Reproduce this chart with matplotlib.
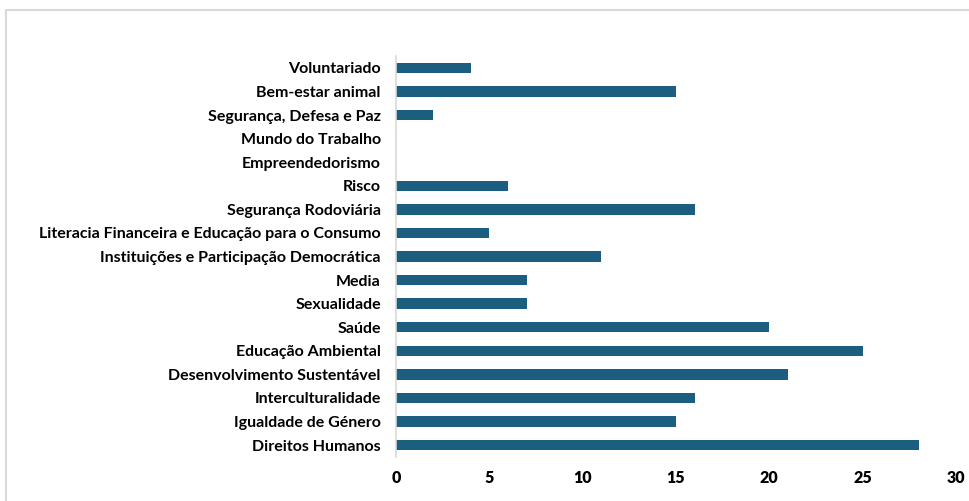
import matplotlib
matplotlib.use("Agg")
import matplotlib.pyplot as plt
from matplotlib.patches import Rectangle

categories = [
    "Direitos Humanos",
    "Igualdade de Género",
    "Interculturalidade",
    "Desenvolvimento Sustentável",
    "Educação Ambiental",
    "Saúde",
    "Sexualidade",
    "Media",
    "Instituições e Participação Democrática",
    "Literacia Financeira e Educação para o Consumo",
    "Segurança Rodoviária",
    "Risco",
    "Empreendedorismo",
    "Mundo do Trabalho",
    "Segurança, Defesa e Paz",
    "Bem-estar animal",
    "Voluntariado",
]
counts = [28, 15, 16, 21, 25, 20, 7, 7, 11, 5, 16, 6, 0, 0, 2, 15, 4]
x_ticks = [0, 5, 10, 15, 20, 25, 30]

bar_color = "#1B5E7F"
grid_gray = "#D9D9D9"

plt.rcParams["font.family"] = ["Lato", "DejaVu Sans"]

W, H = 969, 501
fig = plt.figure(figsize=(W / 100, H / 100), dpi=100)
ax = fig.add_axes([396 / W, (H - 456.8) / H, (956 - 396) / W, (456.8 - 56.2) / H])

positions = list(range(len(categories)))
ax.barh(positions, counts, height=0.44, color=bar_color)

ax.set_xlim(0, 30)
ax.set_ylim(-0.5, len(categories) - 0.5)
ax.set_xticks(x_ticks)
ax.set_xticklabels([str(t) for t in x_ticks], fontsize=11.5, fontweight="heavy")
ax.set_yticks(positions)
ax.set_yticklabels(categories, fontsize=11.5, fontweight="bold")
ax.tick_params(axis="both", length=0, colors="black")
ax.tick_params(axis="x", pad=9.5)
ax.tick_params(axis="y", pad=11)

for side in ("top", "right", "bottom"):
    ax.spines[side].set_visible(False)
ax.spines["left"].set_color(grid_gray)
ax.spines["left"].set_linewidth(1.2)

# chart-area frame
fig.patches.append(Rectangle((6 / W, -0.02), 1.0, (H - 10) / H + 0.02,
                             transform=fig.transFigure, fill=False,
                             edgecolor=grid_gray, linewidth=1.5))

fig.savefig("out.png", dpi=100)
